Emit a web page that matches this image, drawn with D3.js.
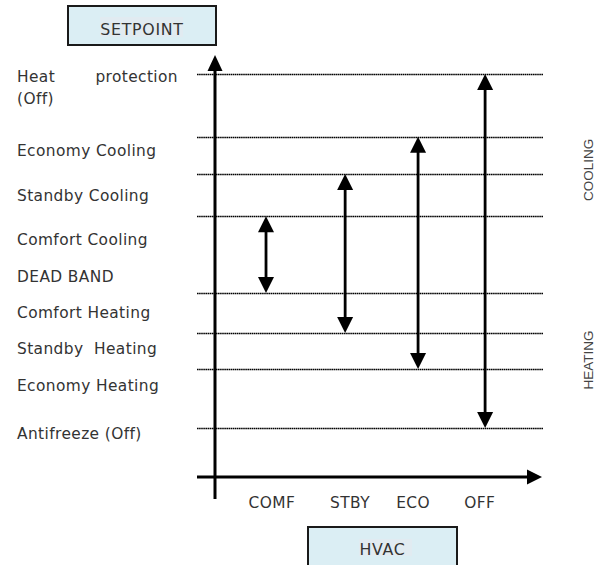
<!DOCTYPE html>
<html>
<head>
<meta charset="utf-8">
<script src="https://cdn.jsdelivr.net/npm/d3@7"></script>
<style>
  body { margin: 0; background: #fff; }
  text { font-family: "DejaVu Sans", sans-serif; }
</style>
</head>
<body>
<div id="chart"></div>
<script>
// setpoint levels (dotted lines), in relative setpoint units 0..100
const lineNames = ["heatProtection", "ecoCool", "stbyCool", "comfCool", "comfHeat", "stbyHeat", "ecoHeat", "antifreeze"];
const lineValues = [95.5, 80.6, 71.8, 61.8, 43.6, 34.1, 25.6, 11.6];

// left labels
const labelTexts = ["(Off)", "Economy Cooling", "Standby Cooling", "Comfort Cooling", "DEAD BAND",
    "Comfort Heating", "Standby  Heating", "Economy Heating", "Antifreeze (Off)"];
const labelValues = [89.8, 77.3, 66.8, 56.4, 47.6, 39.0, 30.5, 21.8, 10.3];
const heatProtValue = 94.9;

// HVAC modes
const modeNames = ["COMF", "STBY", "ECO", "OFF"];
const modeArrowX = [15.6, 39.8, 62.1, 82.6];
const modeLabelX = [17.4, 41.3, 60.6, 81.0];
const modeFrom = ["comfCool", "stbyCool", "ecoCool", "heatProtection"];
const modeTo = ["comfHeat", "stbyHeat", "ecoHeat", "antifreeze"];

// side labels
const sideNames = ["COOLING", "HEATING"];
const sideValues = [72.8, 27.7];

const W = 603, H = 565;
const svg = d3.select("#chart").append("svg")
    .attr("width", W)
    .attr("height", H);

const x = d3.scaleLinear().domain([0, 100]).range([215, 542]);
const y = d3.scaleLinear().domain([0, 100]).range([477, 55]);
const lineY = name => y(lineValues[lineNames.indexOf(name)]);

const ink = "#000";
const txt = "#333";
const fs = 15.4;
const ls = 0.4;

// boxes
function box(x0, y0, w, h, label, baseline, hl) {
    svg.append("rect")
        .attr("x", x0).attr("y", y0).attr("width", w).attr("height", h)
        .attr("fill", "#dbeef4").attr("stroke", "#1a1a1a").attr("stroke-width", 2);
    svg.append("rect")
        .attr("x", hl[0]).attr("y", hl[1]).attr("width", hl[2]).attr("height", hl[3])
        .attr("fill", "#e1ebf1");
    svg.append("text")
        .attr("x", x0 + w / 2).attr("y", baseline)
        .attr("text-anchor", "middle")
        .attr("font-size", fs + 0.4)
        .attr("letter-spacing", 0.7)
        .attr("fill", txt)
        .text(label);
}
box(68, 6, 148, 39, "SETPOINT", 35, [100, 17, 83, 20]);
box(308, 527, 149, 60, "HVAC", 555, [359, 539, 53, 17]);

// dotted setpoint lines
svg.append("g")
    .selectAll("line")
    .data(lineValues)
    .enter().append("line")
    .attr("x1", 197)
    .attr("x2", 543)
    .attr("y1", d => Math.round(y(d)) + 0.5)
    .attr("y2", d => Math.round(y(d)) + 0.5)
    .attr("stroke", "#000")
    .attr("stroke-width", 1.6)
    .attr("stroke-dasharray", "1.6 0.5");

// arrowhead helper: tip at (tx, ty), direction "up" | "down" | "right"
function head(tx, ty, dir, len, half) {
    let pts;
    if (dir === "up") pts = [[tx, ty], [tx - half, ty + len], [tx + half, ty + len]];
    else if (dir === "down") pts = [[tx, ty], [tx - half, ty - len], [tx + half, ty - len]];
    else pts = [[tx, ty], [tx - len, ty - half], [tx - len, ty + half]];
    svg.append("path")
        .attr("d", d3.line()(pts) + "Z")
        .attr("fill", ink);
}

// axes
svg.append("line")
    .attr("x1", x(0)).attr("x2", x(0))
    .attr("y1", 499).attr("y2", y(100) + 10)
    .attr("stroke", ink).attr("stroke-width", 3);
head(x(0), y(100), "up", 16, 7.5);

svg.append("line")
    .attr("x1", 197).attr("x2", x(100) - 10)
    .attr("y1", y(0)).attr("y2", y(0))
    .attr("stroke", ink).attr("stroke-width", 3);
head(x(100), y(0), "right", 15, 7.5);

// mode arrows
modeNames.forEach((m, i) => {
    const ax = x(modeArrowX[i]);
    const y1 = lineY(modeFrom[i]);
    const y2 = lineY(modeTo[i]);
    svg.append("line")
        .attr("x1", ax).attr("x2", ax)
        .attr("y1", y1 + 10).attr("y2", y2 - 10)
        .attr("stroke", ink).attr("stroke-width", 2.8);
    head(ax, y1, "up", 16, 8);
    head(ax, y2, "down", 16, 8);
});

// mode labels
svg.append("g")
    .selectAll("text")
    .data(modeNames)
    .enter().append("text")
    .attr("x", (d, i) => x(modeLabelX[i]))
    .attr("y", 508)
    .attr("text-anchor", "middle")
    .attr("font-size", fs)
    .attr("letter-spacing", ls)
    .attr("fill", txt)
    .text(d => d);

// left labels
const lab = svg.append("g")
    .attr("font-size", fs)
    .attr("letter-spacing", ls)
    .attr("fill", txt);
lab.append("text").attr("x", 17).attr("y", y(heatProtValue)).attr("dy", "0.36em").text("Heat");
lab.append("text").attr("x", 178).attr("y", y(heatProtValue)).attr("dy", "0.36em")
    .attr("text-anchor", "end").text("protection");
lab.selectAll(".lbl")
    .data(labelTexts)
    .enter().append("text")
    .attr("class", "lbl")
    .attr("x", 17)
    .attr("y", (d, i) => y(labelValues[i]))
    .attr("dy", "0.36em")
    .attr("xml:space", "preserve")
    .style("white-space", "pre")
    .text(d => d);

// side labels
svg.append("g")
    .selectAll("text")
    .data(sideNames)
    .enter().append("text")
    .attr("transform", (d, i) => `translate(593,${y(sideValues[i])}) rotate(-90)`)
    .attr("text-anchor", "middle")
    .style("font-family", "'Liberation Sans', Arial, sans-serif")
    .attr("font-size", 13.5)
    .attr("fill", "#444")
    .text(d => d);
</script>
</body>
</html>
